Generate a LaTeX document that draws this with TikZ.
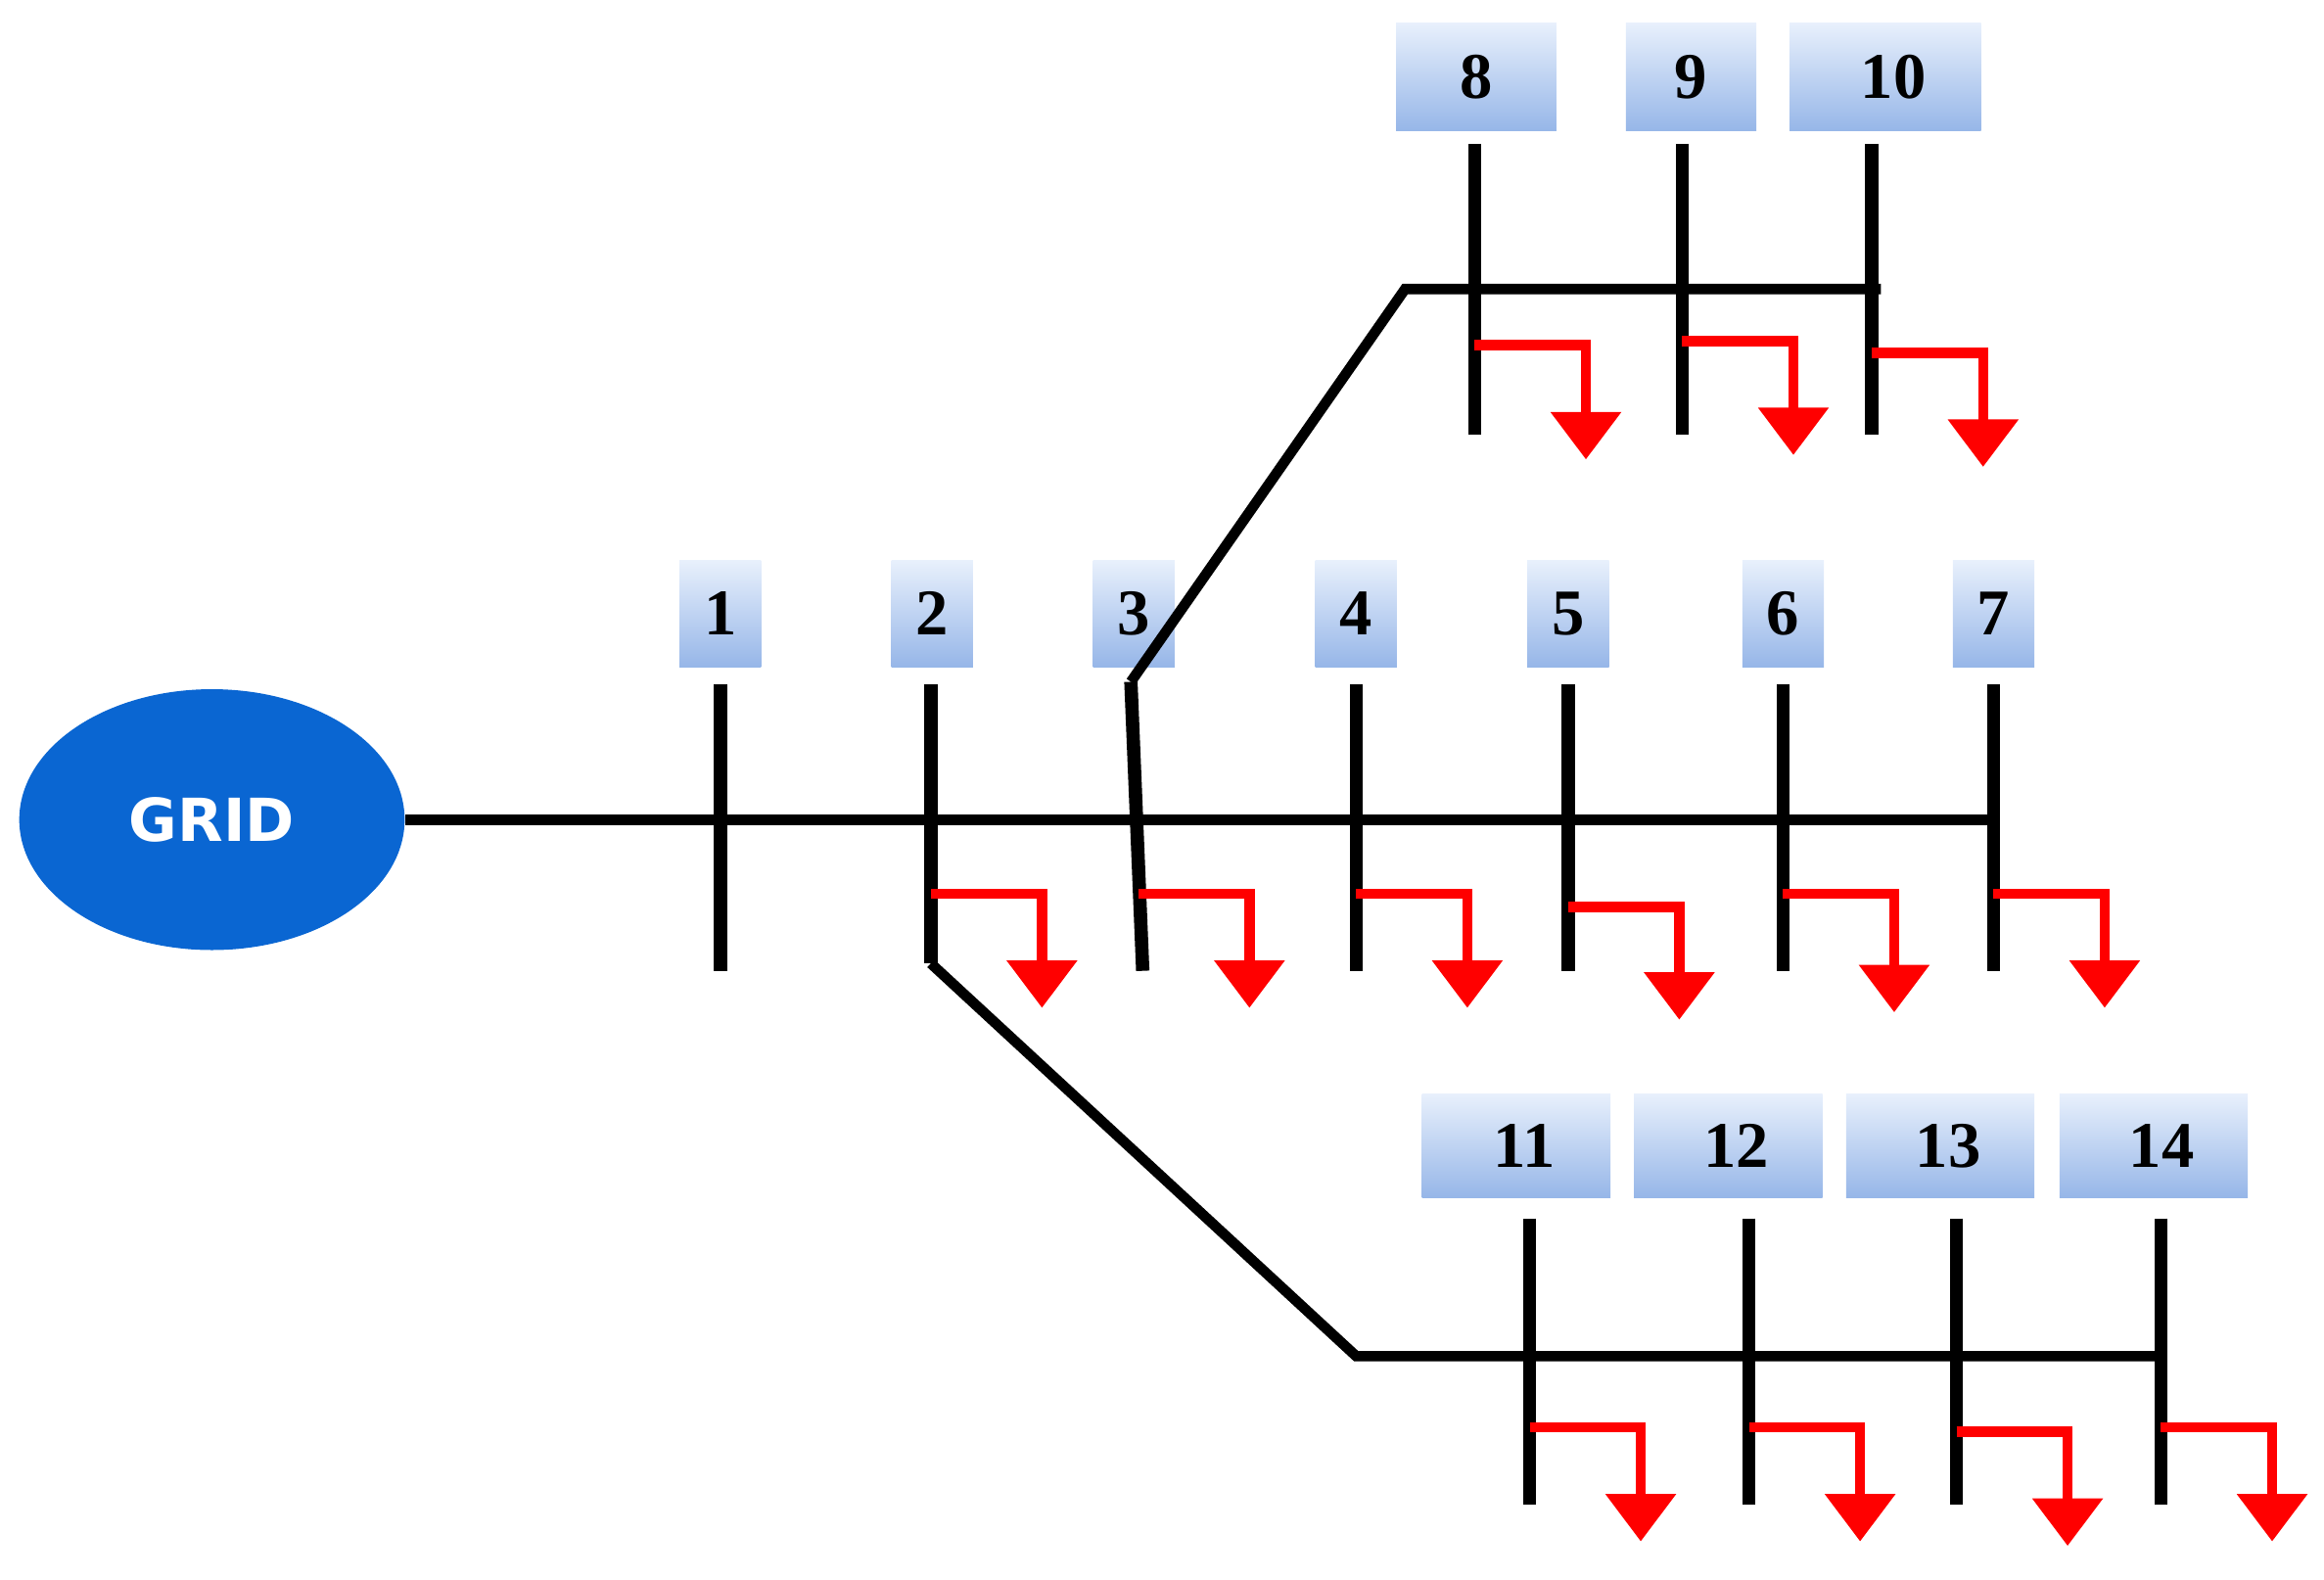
\documentclass[tikz,border=0pt]{standalone}
\usetikzlibrary{arrows.meta,shapes.geometric}
\usepackage{fontspec}
\setmainfont{Liberation Serif}
\newfontfamily\gridfont{DejaVu Sans}
\definecolor{gridblue}{RGB}{10,102,210}
\definecolor{boxtop}{RGB}{232,240,252}
\definecolor{boxbot}{RGB}{150,182,232}
\begin{document}
\begin{tikzpicture}[x=1pt,y=-1pt,
  bus/.style={line width=9pt,black},
  line/.style={line width=7pt,black},
  load/.style={line width=7pt,red,-{Triangle[width=46pt,length=32pt]}},
  lbl/.style={draw=none,top color=boxtop,bottom color=boxbot,inner sep=0pt,font=\fontsize{44}{44}\selectfont\bfseries}]
\useasboundingbox (0,0) rectangle (1568,1066);
\node[ellipse,fill=gridblue,minimum width=260pt,minimum height=176pt,text=white,font=\gridfont\fontsize{40}{40}\selectfont\bfseries] (grid) at (143,553) {GRID};
% labels
\foreach \n/\x/\w in {1/486/55,2/629/55,3/765/55,4/915/55,5/1058/55,6/1203/55,7/1345/55}
  \node[lbl,minimum width=\w pt,minimum height=72pt] (L\n) at (\x,414) {\n};
\node[lbl,minimum width=108pt,minimum height=73pt] (L8) at (996,52) {8};
\node[lbl,minimum width=88pt,minimum height=73pt] (L9) at (1141,52) {9};
\node[lbl,minimum width=129pt,minimum height=73pt] (L10) at (1272,52) {\ 10};
\foreach \n/\x in {11/1023,12/1166,13/1309,14/1453}
  \node[lbl,minimum width=127pt,minimum height=70pt] (L\n) at (\x,773) {\ \n};
% bus coordinates
\foreach \n/\x in {1/486,2/628,3/765,4/915,5/1058,6/1203,7/1345}{
  \coordinate (t\n) at (\x,462); \coordinate (b\n) at (\x,655); \coordinate (m\n) at (\x,553);}
\foreach \n/\x in {8/995,9/1135,10/1263}{
  \coordinate (t\n) at (\x,97); \coordinate (b\n) at (\x,293); \coordinate (m\n) at (\x,195);}
\foreach \n/\x in {11/1032,12/1180,13/1320,14/1458}{
  \coordinate (t\n) at (\x,822); \coordinate (b\n) at (\x,1015); \coordinate (m\n) at (\x,915);}
\coordinate (b2) at (628,650);
\coordinate (t3) at (763,460);
\coordinate (b3) at (771,655);
\coordinate (m3) at (767,553);
\foreach \n in {1,...,14} \draw[bus] (t\n) -- (b\n);
% lines
\draw[line] (grid.east) -- (m7);
\coordinate (ub) at (948,195);
\draw[line] (t3) -- (ub) -- ([xshift=6pt]m10);
\coordinate (lb) at (915,915);
\draw[line] (b2) -- (lb) -- ([xshift=3pt]m14);
% loads
\foreach \n/\x/\y/\e in {2/628/603/680,3/768/603/680,4/915/603/680,5/1058/612/688,6/1203/603/683,7/1345/603/680,
  8/995/233/310,9/1135/230/307,10/1263/238/315,11/1032/963/1040,12/1180/963/1040,13/1320/966/1043,14/1458/963/1040}{
  \coordinate (s\n) at (\x,\y);
  \draw[load] (s\n) -- ++(75,0) -- (\x+75,\e);}
\end{tikzpicture}
\end{document}
